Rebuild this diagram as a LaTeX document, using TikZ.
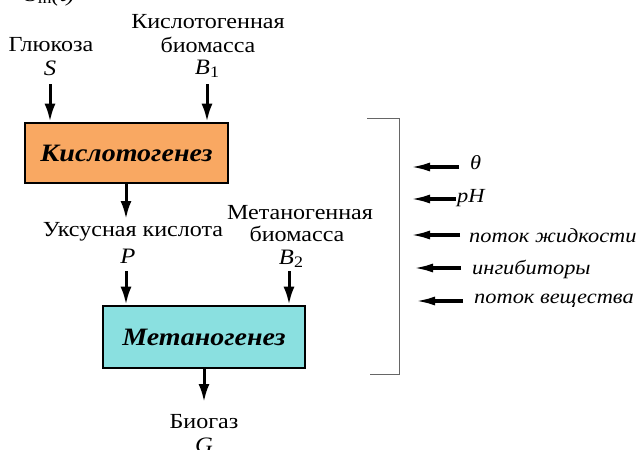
\documentclass[tikz,border=0pt]{standalone}
\usepackage{fontspec}
\setmainfont{Liberation Serif}[FakeStretch=1.12]
\usetikzlibrary{arrows.meta}
\definecolor{boxorange}{HTML}{F9A862}
\definecolor{boxcyan}{HTML}{8AE0E0}
\tikzset{
  lbl/.style={inner sep=0pt, font=\fontsize{21.5}{24}\selectfont},
  var/.style={inner sep=0pt, font=\fontsize{22}{25}\selectfont\itshape},
  rlbl/.style={inner sep=0pt, anchor=west, font=\fontsize{20}{23}\selectfont\itshape},
  procbox/.style={draw=black, line width=2.6pt, inner sep=0pt,
    font=\fontsize{25}{28}\selectfont\bfseries\itshape},
  arr/.style={line width=3pt, -{Latex[length=18pt,width=11pt]}},
  larr/.style={line width=3.2pt, -{Latex[length=20pt,width=9pt]}},
  brk/.style={draw=gray!80!black, line width=0.9pt}
}
\newcommand{\sub}[1]{\raisebox{-0.25ex}{\fontsize{16}{18}\selectfont\upshape #1}}
\begin{document}
\begin{tikzpicture}[x=1pt,y=-1pt]
\useasboundingbox (0,0) rectangle (641,450);
\clip (0,0) rectangle (641,450);
% cut-off text at top
\node[var, anchor=base] (sin) at (50,1) {S\sub{in}(t)};
% inputs to Кислотогенез
\node[lbl] (glu) at (51,45) {Глюкоза};
\node[var] (S) at (50,68) {S};
\node[lbl] (kb1) at (208,22) {Кислотогенная};
\node[lbl] (kb2) at (208,45) {биомасса};
\node[var] (B1) at (207,69) {B\sub{1}};
% box 1
\node[procbox, fill=boxorange, minimum width=203pt, minimum height=60pt] (k) at (126.5,153) {Кислотогенез};
\coordinate (sS) at (50,84);
\coordinate (sB1) at (207,84);
\draw[arr] (sS) -- (sS |- k.north);
\draw[arr] (sB1) -- (sB1 |- k.north);
% outputs / inputs to Метаногенез
\coordinate (kout) at (126,219);
\draw[arr] (k.south -| kout) -- (kout);
\node[lbl] (uk) at (133,232) {Уксусная кислота};
\node[var] (P) at (128,256) {P};
\node[lbl] (mb1) at (300,213) {Метаногенная};
\node[lbl] (mb2) at (297,234) {биомасса};
\node[var] (B2) at (291,259) {B\sub{2}};
% box 2
\node[procbox, fill=boxcyan, minimum width=202pt, minimum height=62pt] (m) at (204,337) {Метаногенез};
\coordinate (sP) at (126,271);
\coordinate (sB2) at (289,271);
\draw[arr] (sP) -- (sP |- m.north);
\draw[arr] (sB2) -- (sB2 |- m.north);
\coordinate (mout) at (204,402);
\draw[arr] (m.south) -- (mout);
\node[lbl] (bio) at (204,422) {Биогаз};
\node[var] (G) at (204,445) {G};
% bracket
\coordinate (bt) at (367,118);
\coordinate (bb) at (370,374);
\draw[brk] (bt) -| (399,374) -- (bb);
% factors
\coordinate (t1) at (459,167); \coordinate (h1) at (410,167);
\coordinate (t2) at (456,199); \coordinate (h2) at (410,199);
\coordinate (t3) at (460,235); \coordinate (h3) at (410,235);
\coordinate (t4) at (461,268); \coordinate (h4) at (413,268);
\coordinate (t5) at (463,301); \coordinate (h5) at (415,301);
\draw[larr] (t1) -- (h1);
\draw[larr] (t2) -- (h2);
\draw[larr] (t3) -- (h3);
\draw[larr] (t4) -- (h4);
\draw[larr] (t5) -- (h5);
\node[rlbl] (f1) at (470,163) {θ};
\node[rlbl] (f2) at (457,198) {pH};
\node[rlbl] (f3) at (469,236) {поток жидкости};
\node[rlbl] (f4) at (472,269) {ингибиторы};
\node[rlbl] (f5) at (474,301) {поток вещества};
\end{tikzpicture}
\end{document}
